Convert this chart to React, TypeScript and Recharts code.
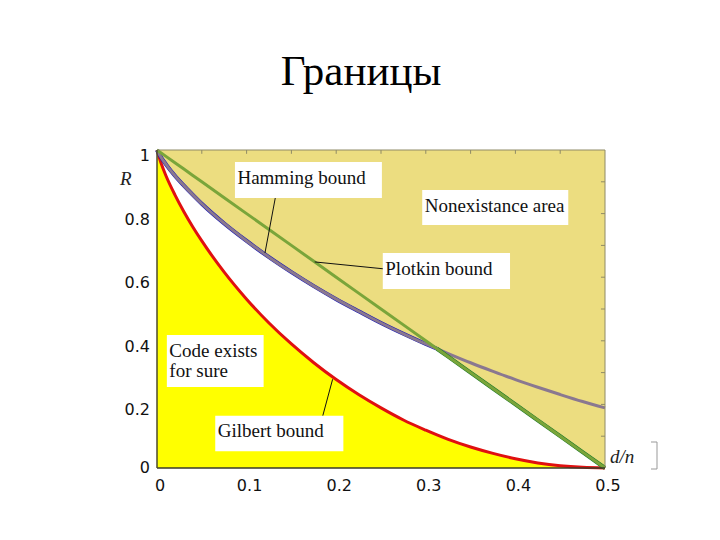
import React from 'react';
import {
  ComposedChart,
  Area,
  Line,
  XAxis,
  YAxis,
  CartesianGrid,
  ReferenceArea,
  ReferenceLine,
} from 'recharts';

// relative distance d/n
const dn = [0, 0.005, 0.01, 0.02, 0.03, 0.04, 0.05, 0.075, 0.1, 0.125, 0.15, 0.175, 0.2, 0.225, 0.25, 0.275, 0.3, 0.3125, 0.325, 0.35, 0.375, 0.4, 0.425, 0.45, 0.475, 0.5];
const gilbert = [1, 0.955, 0.919, 0.859, 0.806, 0.758, 0.714, 0.616, 0.531, 0.456, 0.39, 0.331, 0.278, 0.231, 0.189, 0.151, 0.119, 0.104, 0.09, 0.066, 0.046, 0.029, 0.016, 0.007, 0.002, 0];
const hamming = [1, 0.975, 0.955, 0.919, 0.888, 0.859, 0.831, 0.769, 0.714, 0.663, 0.616, 0.572, 0.531, 0.493, 0.456, 0.422, 0.39, 0.375, 0.36, 0.331, 0.304, 0.278, 0.254, 0.231, 0.209, 0.189];
const plotkin = [1, 0.99, 0.98, 0.96, 0.94, 0.92, 0.9, 0.85, 0.8, 0.75, 0.7, 0.65, 0.6, 0.55, 0.5, 0.45, 0.4, 0.375, 0.35, 0.3, 0.25, 0.2, 0.15, 0.1, 0.05, 0];
const crossing = 0.3125;

const xTicks = [0, 0.1, 0.2, 0.3, 0.4, 0.5];
const yTicks = [0, 0.2, 0.4, 0.6, 0.8, 1];
const topTicks = [0.05, 0.1, 0.15, 0.2, 0.25, 0.3, 0.35, 0.4, 0.45];
const rightTicks = [0.1, 0.2, 0.3, 0.4, 0.5, 0.6, 0.7, 0.8, 0.9];

const notes = [
  { lines: ['Hamming bound'], x1: 0.087, x2: 0.251, y1: 0.849, y2: 0.962 },
  { lines: ['Nonexistance area'], x1: 0.296, x2: 0.459, y1: 0.764, y2: 0.874 },
  { lines: ['Plotkin bound'], x1: 0.252, x2: 0.394, y1: 0.563, y2: 0.676 },
  { lines: ['Code exists', 'for sure'], x1: 0.011, x2: 0.119, y1: 0.255, y2: 0.418 },
  { lines: ['Gilbert bound'], x1: 0.065, x2: 0.208, y1: 0.053, y2: 0.164 },
];

const leaders = [
  [{ x: 0.132, y: 0.849 }, { x: 0.1205, y: 0.676 }],
  [{ x: 0.176, y: 0.648 }, { x: 0.254, y: 0.626 }],
  [{ x: 0.196, y: 0.279 }, { x: 0.185, y: 0.164 }],
];

const data = dn.map((x, i) => ({
  x,
  gilbert: gilbert[i],
  hamming: hamming[i],
  plotkin: plotkin[i],
  upper: Math.min(hamming[i], plotkin[i]),
  hammingLow: x <= crossing ? hamming[i] : null,
  plotkinLow: x >= crossing ? plotkin[i] : null,
}));

const serif = '"Liberation Serif", "Times New Roman", serif';
const sans = '"DejaVu Sans", sans-serif';
const frame = '#8f8a66';

const noteLabel = (lines: string[]) => (props: any) => {
  const vb = props.viewBox || {};
  return (
    <text x={vb.x + 2.5} y={vb.y + 21.5} fontFamily={serif} fontSize={19} fill="#111">
      {lines.map((l, i) => (
        <tspan key={i} x={vb.x + 2.5} dy={i === 0 ? 0 : 20}>
          {l}
        </tspan>
      ))}
    </text>
  );
};

const XTick = ({ x, y, payload }: any) => (
  <text x={x + 3} y={y + 13} textAnchor="middle" fontFamily={sans} fontSize={16} fill="#111">
    {String(payload.value)}
  </text>
);

const YTick = ({ x, y, payload }: any) => (
  <text x={x - 1} y={y + (payload.value === 0 ? 5 : 11)} textAnchor="end" fontFamily={sans} fontSize={16} fill="#111">
    {String(payload.value)}
  </text>
);

export default function App() {
  return (
    <div style={{ position: 'absolute', left: 0, top: 0, width: 720, height: 540, background: '#fff' }}>
      <ComposedChart
        width={720}
        height={540}
        data={data}
        margin={{ top: 150, right: 115, bottom: 42, left: 103 }}
      >
        <CartesianGrid horizontal={false} vertical={false} fill="#ecdd80" fillOpacity={1} />
        <XAxis
          dataKey="x"
          type="number"
          domain={[0, 0.5]}
          ticks={xTicks}
          height={30}
          tickLine={false}
          tickSize={8}
          axisLine={{ stroke: '#3a3a2a', strokeWidth: 1.5 }}
          tick={<XTick />}
        />
        <YAxis
          type="number"
          domain={[0, 1]}
          ticks={yTicks}
          width={54}
          tickLine={false}
          tickSize={4}
          axisLine={{ stroke: '#4c4a2c', strokeWidth: 1.5 }}
          tick={<YTick />}
        />
        <Area type="monotone" dataKey="upper" stroke="none" fill="#ffffff" fillOpacity={1} isAnimationActive={false} />
        <Area type="monotone" dataKey="gilbert" stroke="none" fill="#ffff00" fillOpacity={1} isAnimationActive={false} />
        <Line type="monotone" dataKey="gilbert" stroke="#e01010" strokeWidth={3} dot={false} isAnimationActive={false} />
        <Line type="monotone" dataKey="hammingLow" stroke="#1a1ab4" strokeWidth={4} dot={false} isAnimationActive={false} />
        <Line type="monotone" dataKey="hamming" stroke="#8a7890" strokeWidth={3} dot={false} isAnimationActive={false} />
        <Line type="linear" dataKey="plotkinLow" stroke="#1f7a2a" strokeWidth={4} dot={false} isAnimationActive={false} />
        <Line type="linear" dataKey="plotkin" stroke="#7aa53a" strokeWidth={3} dot={false} isAnimationActive={false} />
        {/* top and right frame with small inward ticks */}
        <ReferenceLine y={1} stroke={frame} strokeWidth={1} ifOverflow="visible" />
        <ReferenceLine x={0.5} stroke={frame} strokeWidth={1} ifOverflow="visible" />
        {topTicks.map((t) => (
          <ReferenceLine key={`t${t}`} segment={[{ x: t, y: 1 }, { x: t, y: 0.988 }]} stroke={frame} ifOverflow="visible" />
        ))}
        {rightTicks.map((t) => (
          <ReferenceLine key={`r${t}`} segment={[{ x: 0.5, y: t }, { x: 0.4955, y: t }]} stroke={frame} ifOverflow="visible" />
        ))}
        {leaders.map((seg, i) => (
          <ReferenceLine key={`l${i}`} segment={seg} stroke="#111" strokeWidth={1} ifOverflow="visible" zIndex={1500} />
        ))}
        {notes.map((n, i) => (
          <ReferenceArea
            key={`n${i}`}
            x1={n.x1}
            x2={n.x2}
            y1={n.y1}
            y2={n.y2}
            fill="#ffffff"
            fillOpacity={1}
            stroke="none"
            ifOverflow="visible"
            zIndex={1500}
            label={noteLabel(n.lines)}
          />
        ))}
      </ComposedChart>
      <svg width={720} height={540} style={{ position: 'absolute', left: 0, top: 0, pointerEvents: 'none' }}>
        <text x={361} y={85} textAnchor="middle" fontFamily={serif} fontSize={43} fill="#000">
          Границы
        </text>
        <text x={120} y={185} fontFamily={serif} fontStyle="italic" fontSize={19} fill="#222">
          R
        </text>
        <text x={610} y={463} fontFamily={serif} fontStyle="italic" fontSize={19} fill="#222">
          d/n
        </text>
        <polyline points="651,442 657,442 657,469 651,469" fill="none" stroke="#999" strokeWidth={1} />
      </svg>
    </div>
  );
}
